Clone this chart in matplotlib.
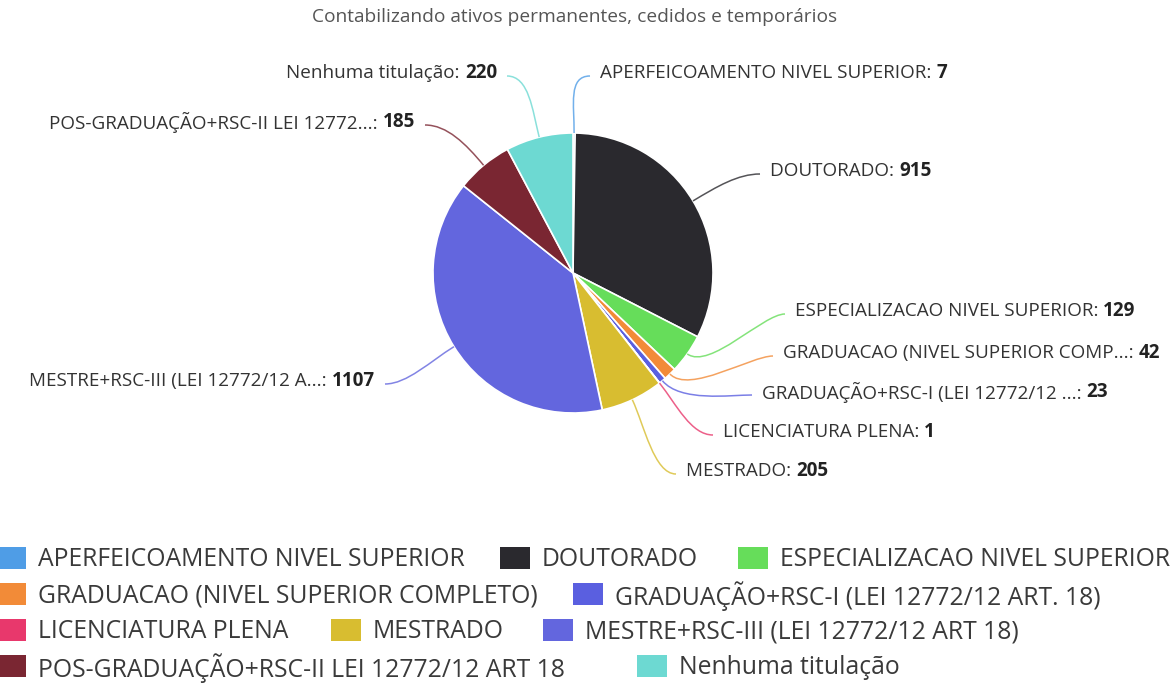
import numpy as np
import matplotlib
matplotlib.use("Agg")
import matplotlib.pyplot as plt
from matplotlib.path import Path
from matplotlib.patches import PathPatch, Rectangle

# dados do gráfico
categorias = [
    "APERFEICOAMENTO NIVEL SUPERIOR",
    "DOUTORADO",
    "ESPECIALIZACAO NIVEL SUPERIOR",
    "GRADUACAO (NIVEL SUPERIOR COMPLETO)",
    "GRADUAÇÃO+RSC-I (LEI 12772/12 ART. 18)",
    "LICENCIATURA PLENA",
    "MESTRADO",
    "MESTRE+RSC-III (LEI 12772/12 ART 18)",
    "POS-GRADUAÇÃO+RSC-II LEI 12772/12 ART 18",
    "Nenhuma titulação",
]
rotulos = [
    "APERFEICOAMENTO NIVEL SUPERIOR",
    "DOUTORADO",
    "ESPECIALIZACAO NIVEL SUPERIOR",
    "GRADUACAO (NIVEL SUPERIOR COMP...",
    "GRADUAÇÃO+RSC-I (LEI 12772/12 ...",
    "LICENCIATURA PLENA",
    "MESTRADO",
    "MESTRE+RSC-III (LEI 12772/12 A...",
    "POS-GRADUAÇÃO+RSC-II LEI 12772...",
    "Nenhuma titulação",
]
valores = [7, 915, 129, 42, 23, 1, 205, 1107, 185, 220]
cores = ["#4f9de6", "#2a292e", "#66dd5a", "#f28b38", "#5a5fe0",
         "#e8386c", "#d8bd30", "#6366de", "#7a2632", "#6dd9d2"]
titulo = "Contabilizando ativos permanentes, cedidos e temporários"

# layout (pixels, origem no canto superior esquerdo)
W, H = 1176, 684
CENTRO = (573, 273)
RAIO = 140
# posição dos rótulos: (x, y, lado) lado=1 -> direita, -1 -> esquerda
POS_ROTULOS = [
    (600, 73, 1), (770, 171, 1), (795, 311, 1), (783, 353, 1),
    (762, 392, 1), (723, 432, 1), (686, 471, 1), (375, 381, -1),
    (415, 122, -1), (497, 73, -1),
]
# legenda: itens por linha e posição x do quadrado de cada item
LINHAS_LEGENDA = [[0, 1, 2], [3, 4], [5, 6, 7], [8, 9]]
X_LEGENDA = [[-4, 500, 738], [-4, 573], [-4, 331, 543], [-4, 637]]
Y_LEGENDA = [558, 594, 630, 666]

FONTE = ["Open Sans", "DejaVu Sans"]
plt.rcParams["font.family"] = FONTE

fig = plt.figure(figsize=(W / 100, H / 100), dpi=100)
ax = fig.add_axes([0, 0, 1, 1])

# eixo y invertido: sentido horário visual = anti-horário nos dados
wedges, _ = ax.pie(valores, colors=cores, startangle=-90, counterclock=True,
                   center=CENTRO, radius=RAIO,
                   wedgeprops=dict(edgecolor="white", linewidth=1.2))
ax.set_xlim(0, W)
ax.set_ylim(H, 0)
ax.set_aspect("auto")
ax.axis("off")

ax.text(575, 17, titulo, ha="center", va="center", fontsize=13.8, color="#555555")

fig.canvas.draw()
renderer = fig.canvas.get_renderer()


def largura(t):
    return t.get_window_extent(renderer).width


# rótulos com conectores
for w, nome, val, cor, (lx, ly, lado) in zip(wedges, rotulos, valores, cores, POS_ROTULOS):
    ang = np.deg2rad((w.theta1 + w.theta2) / 2)
    dx, dy = np.cos(ang), np.sin(ang)
    p0 = (CENTRO[0] + RAIO * dx, CENTRO[1] + RAIO * dy)
    c1 = (p0[0] + 28 * dx, p0[1] + 28 * dy)
    p3 = (lx - lado * 10, ly + 3)
    c2 = (p3[0] - lado * 22, p3[1])
    caminho = Path([p0, c1, c2, p3], [Path.MOVETO, Path.CURVE4, Path.CURVE4, Path.CURVE4])
    ax.add_patch(PathPatch(caminho, facecolor="none", edgecolor=cor, lw=1.1, alpha=0.8))

    if lado == 1:
        t1 = ax.text(lx, ly, nome + ": ", ha="left", va="center", fontsize=13.6, color="#333333")
        ax.text(lx + largura(t1), ly, str(val), ha="left", va="center", fontsize=13.6,
                color="#222222", fontweight="bold")
    else:
        t2 = ax.text(lx, ly, str(val), ha="right", va="center", fontsize=13.6,
                     color="#222222", fontweight="bold")
        ax.text(lx - largura(t2), ly, nome + ": ", ha="right", va="center", fontsize=13.6,
                color="#333333")

# legenda manual, em fluxo como no original
for linha, xs, y in zip(LINHAS_LEGENDA, X_LEGENDA, Y_LEGENDA):
    for i, x in zip(linha, xs):
        ax.add_patch(Rectangle((x, y - 11), 30, 22, facecolor=cores[i], edgecolor="none"))
        ax.text(x + 42, y + 2, categorias[i], ha="left", va="center", fontsize=17.8,
                color="#3a3a3a")

fig.savefig("out.png", dpi=100)
